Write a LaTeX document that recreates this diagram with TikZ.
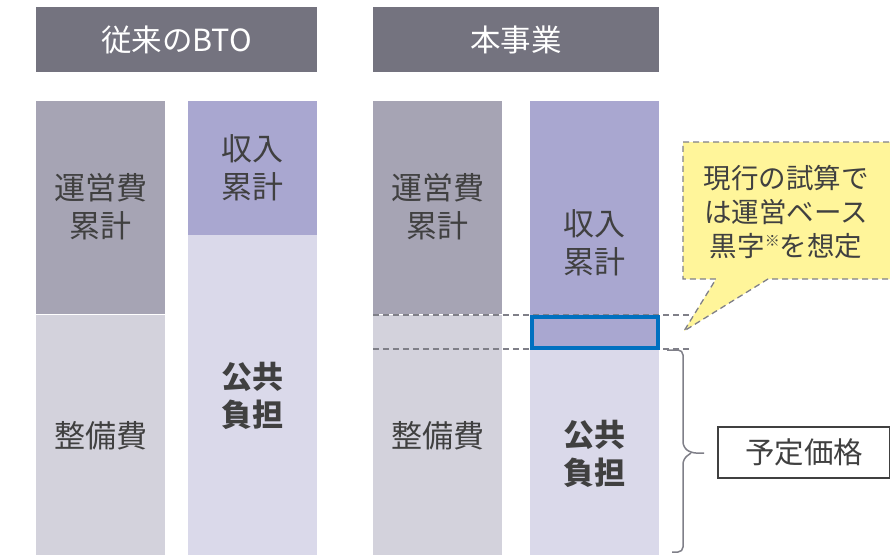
\documentclass[tikz,border=0pt]{standalone}
\usepackage{fontspec}
\setmainfont{Noto Sans CJK JP}
\definecolor{chdr}{HTML}{74737F}
\definecolor{copc}{HTML}{A6A4B4}
\definecolor{ccap}{HTML}{D3D2DC}
\definecolor{cinc}{HTML}{A9A7D0}
\definecolor{cpub}{HTML}{DAD9EA}
\definecolor{ctxt}{HTML}{404040}
\definecolor{cblu}{HTML}{0070C0}
\definecolor{cdsh}{HTML}{7F7F88}
\definecolor{cyel}{HTML}{FFF59A}
\begin{document}
\begin{tikzpicture}[x=1pt,y=-1pt,
  seg/.style={draw=none,text=ctxt,align=center,font=\fontsize{31}{38}\selectfont},
  segb/.style={seg,font=\fontsize{31}{38}\selectfont\bfseries},
  hdrtext/.style={text=white,font=\fontsize{30.5}{32}\selectfont},
  dline/.style={draw=cdsh,line width=1.3pt,dash pattern=on 6pt off 4pt}]
\useasboundingbox (0,0) rectangle (890,555);
% headers
\fill[chdr] (36,7) rectangle (317,72);
\node[hdrtext] (h1) at (176.5,40) {従来のBTO};
\fill[chdr] (373,7) rectangle (659,72);
\node[hdrtext] (h2) at (516,40) {本事業};
% column A
\fill[copc] (36,101) rectangle (165,314);
\fill[ccap] (36,315) rectangle (165,555);
\node[seg] (a1) at (100.5,207) {運営費\\累計};
\node[seg] (a2) at (100.5,436) {整備費};
% column B
\fill[cinc] (188,101) rectangle (317,235);
\fill[cpub] (188,235) rectangle (317,555);
\node[seg] (b1) at (252.5,168) {収入\\累計};
\node[segb] (b2) at (252.5,396) {公共\\負担};
% column C
\fill[copc] (373,101) rectangle (502,314);
\fill[ccap] (373,315) rectangle (502,555);
\node[seg] (c1) at (437.5,207) {運営費\\累計};
\node[seg] (c2) at (437.5,436) {整備費};
% column D
\fill[cinc] (530,101) rectangle (659,349);
\fill[cpub] (530,349) rectangle (659,555);
\node[seg] (d1) at (594.5,243) {収入\\累計};
\node[segb] (d2) at (594.5,454) {公共\\負担};
% dashed lines
\coordinate (t1) at (373,315); \coordinate (t2) at (693,315);
\coordinate (u1) at (373,349); \coordinate (u2) at (692,349);
\draw[dline] (t1) -- (t2);
\draw[dline] (u1) -- (u2);
% blue box
\draw[cblu,line width=3.5pt] (531.75,316.75) rectangle (657.75,347.75);
% callout
\draw[dline,fill=cyel] (683,142) -- (892,142) -- (892,279) -- (768,279) -- (684,331) -- (716,279) -- (683,279) -- cycle;
\node[text=ctxt,align=center,font=\fontsize{27.5}{34}\selectfont] (co) at (786,212) {現行の試算で\\は運営ベース\\黒字\raisebox{0.35em}{\fontsize{15}{15}\selectfont ※}を想定};
% brace
\draw[cdsh,line width=1.5pt,rounded corners=5pt] (667,350) -- (683,350) -- (683,447) -- (691,453) -- (704,453);
\draw[cdsh,line width=1.5pt,rounded corners=5pt] (691,453) -- (683,459) -- (683,552) -- (672,552);
% price box
\node[draw=ctxt,line width=1.2pt,minimum width=172pt,minimum height=51pt,text=ctxt,font=\fontsize{29.5}{30}\selectfont,inner sep=0pt] (pr) at (804,452.5) {予定価格};
\end{tikzpicture}
\end{document}
